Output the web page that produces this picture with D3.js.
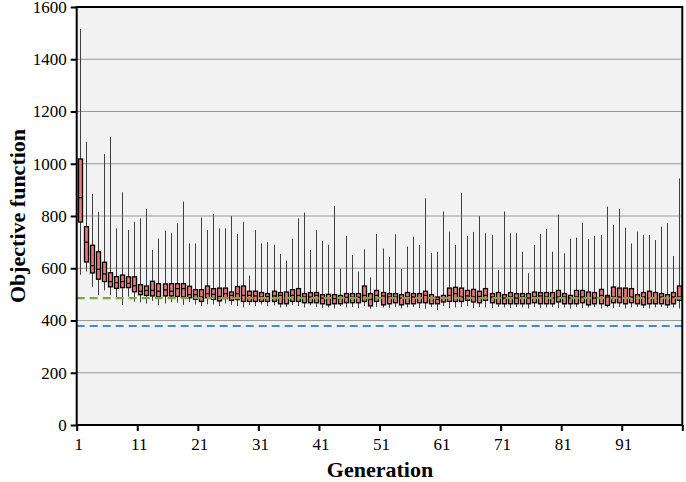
<!DOCTYPE html>
<html><head><meta charset="utf-8">
<script src="https://cdn.jsdelivr.net/npm/d3@7"></script>
<style>
html,body{margin:0;padding:0;background:#fff;}
svg{display:block;}
svg text{font-family:'Liberation Serif','Times New Roman',serif;}
</style></head>
<body>
<svg id="c" width="686" height="482"></svg>
<script>
// ---- data ----
const generations = d3.range(1, 101);
const boxMin = [575,587,529,498,515,498,486,459,491,472,
470,465,475,458,465,470,468,460,470,462,
455,462,462,455,465,460,455,450,460,455,
462,455,458,450,452,460,455,450,458,452,
448,450,446,455,450,452,448,455,445,452,
450,448,452,446,450,452,448,445,452,440,
455,448,450,452,455,448,452,450,448,452,
450,448,452,450,446,452,448,450,452,448,
450,446,452,448,450,452,446,450,448,452,
446,450,452,448,446,450,452,448,450,446];
const boxQ1 = [777,624,582,558,549,529,523,526,526,510,
499,496,494,490,494,494,492,490,487,481,
473,487,481,475,484,477,480,473,473,473,
473,473,473,464,464,473,473,468,468,468,
464,460,464,464,468,468,468,473,456,473,
460,464,468,460,464,464,468,468,464,464,
471,473,473,473,477,471,468,477,468,464,
464,464,464,464,464,468,464,464,464,471,
464,464,464,468,460,464,464,458,468,468,
464,468,464,460,464,464,464,460,464,477];
const boxMed = [870,700,610,596,578,549,545,549,542,533,
512,515,515,512,517,512,522,522,499,499,
490,503,500,492,503,496,503,496,496,494,
490,492,494,496,486,496,496,490,490,496,
486,484,484,484,489,489,489,496,481,496,
494,490,490,486,490,490,486,496,486,481,
486,496,503,490,494,490,492,496,490,486,
486,490,486,490,486,490,494,490,486,490,
490,486,490,490,486,486,496,490,490,490,
486,490,484,490,486,486,490,486,490,490];
const boxQ3 = [1018,759,688,663,623,583,568,574,567,567,
537,532,550,541,540,541,541,541,531,518,
518,532,522,524,524,509,530,532,512,512,
507,503,512,507,509,518,522,503,507,507,
499,500,499,496,503,503,503,532,503,515,
507,503,503,499,507,503,503,512,499,490,
496,524,527,524,515,519,512,522,503,507,
499,507,503,503,503,509,507,507,507,515,
503,496,515,515,509,507,519,496,528,524,
524,522,499,507,512,507,503,499,507,532];
const boxMax = [1516,1084,884,816,1037,1102,753,891,746,778,
791,827,670,714,744,734,772,855,695,695,
794,746,808,753,753,800,731,778,572,746,
695,700,690,655,629,713,791,813,670,746,
704,690,838,598,723,651,587,672,565,731,
676,644,730,597,683,721,689,868,658,663,
817,740,689,889,723,739,800,734,727,593,
817,734,734,663,581,689,731,750,663,806,
657,713,717,774,711,723,727,836,766,827,
755,695,740,727,727,708,759,772,647,944];
const yTicks = [0,200,400,600,800,1000,1200,1400,1600];
const xTickValues = [1,11,21,31,41,51,61,71,81,91,101];
const greenRef = 486;
const blueRef = 379;

const boxes = generations.map((g,i)=>({g, min:boxMin[i], q1:boxQ1[i], med:boxMed[i], q3:boxQ3[i], max:boxMax[i]}));

// ---- layout ----
const L = 76.7, R = 682.3, T = 7, B = 425;
const svg = d3.select("#c");
const serif = "'Liberation Serif','Times New Roman',serif";

const x = d3.scaleLinear().domain([1, 101]).range([L, R]);
const y = d3.scaleLinear().domain([0, 1600]).range([B, T]);

svg.append("rect").attr("x", L).attr("y", T).attr("width", R - L).attr("height", B - T).attr("fill", "#f2f2f2");

// gridlines
svg.append("g").selectAll("line").data(yTicks.filter(d => d > 0 && d < 1600)).join("line")
  .attr("x1", L).attr("x2", R).attr("y1", d => y(d)).attr("y2", d => y(d))
  .attr("stroke", "#9a9a9a").attr("stroke-width", 1);

// blue reference
svg.append("line").attr("x1", L).attr("x2", R).attr("y1", y(blueRef)).attr("y2", y(blueRef))
  .attr("stroke", "#4a86e0").attr("stroke-width", 2.2).attr("stroke-dasharray", "8,5");

// whiskers
const bw = 4;
const cx = d => x(d.g + 0.5);
svg.append("g").selectAll("line").data(boxes).join("line")
  .attr("x1", d => Math.round(cx(d)) + 0.5).attr("x2", d => Math.round(cx(d)) + 0.5)
  .attr("y1", d => y(d.max)).attr("y2", d => y(d.min))
  .attr("stroke", "#404040").attr("stroke-width", 1);

// boxes
const bg = svg.append("g");
bg.selectAll("rect").data(boxes).join("rect")
  .attr("x", d => Math.round(cx(d)) + 0.5 - bw/2).attr("width", bw)
  .attr("y", d => y(d.q3)).attr("height", d => y(d.q1) - y(d.q3))
  .attr("fill", "#ef7474").attr("stroke", "#000").attr("stroke-width", 1.3);
bg.selectAll("line").data(boxes).join("line")
  .attr("x1", d => Math.round(cx(d)) + 0.5 - bw/2).attr("x2", d => Math.round(cx(d)) + 0.5 + bw/2)
  .attr("y1", d => y(d.med)).attr("y2", d => y(d.med))
  .attr("stroke", "#000").attr("stroke-width", 1.2);

// green reference
svg.append("line").attr("x1", L).attr("x2", R).attr("y1", y(greenRef)).attr("y2", y(greenRef))
  .attr("stroke", "#7ea83a").attr("stroke-width", 2.2).attr("stroke-dasharray", "8,5");

// frame
svg.append("rect").attr("x", L).attr("y", T).attr("width", R - L).attr("height", B - T)
  .attr("fill", "none").attr("stroke", "#000").attr("stroke-width", 2);

// y axis
const ya = svg.append("g").attr("transform", `translate(${L},0)`)
  .call(d3.axisLeft(y).tickValues(yTicks).tickFormat(d3.format("d")).tickSize(6).tickPadding(4));
ya.attr("font-family", serif).attr("font-size", 17);
ya.select(".domain").remove();
ya.selectAll(".tick line").attr("stroke", "#000").attr("stroke-width", 2);
ya.selectAll("text").attr("fill", "#000");

// x axis
const xa = svg.append("g").attr("transform", `translate(0,${B})`)
  .call(d3.axisBottom(x).tickValues(xTickValues).tickFormat(d => d === 101 ? "" : d).tickSize(6).tickPadding(7));
xa.attr("font-family", serif).attr("font-size", 17);
xa.select(".domain").remove();
xa.selectAll(".tick line").attr("stroke", "#000").attr("stroke-width", 2);
xa.selectAll("text").attr("fill", "#000").attr("dx", 1.5);

// titles
svg.append("text").attr("x", 380).attr("y", 477).attr("text-anchor", "middle")
  .attr("font-family", serif).attr("font-weight", "bold").attr("font-size", 22).text("Generation");
svg.append("text").attr("transform", `translate(25,${(T + B) / 2}) rotate(-90)`).attr("text-anchor", "middle")
  .attr("font-family", serif).attr("font-weight", "bold").attr("font-size", 22).text("Objective function");
</script>
</body></html>
